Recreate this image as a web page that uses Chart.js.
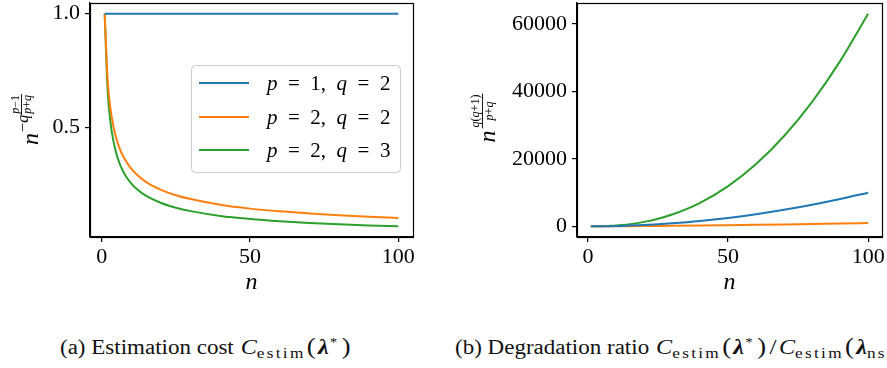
<!DOCTYPE html>
<html>
<head>
<meta charset="utf-8">
<script src="https://cdn.jsdelivr.net/npm/chart.js@4.4.1/dist/chart.umd.min.js"></script>
<style>
body { margin: 0; background: #fff; width: 887px; height: 368px; overflow: hidden; position: relative; font-family: "Liberation Serif", serif; }
#costChart { position: absolute; left: 0; top: 0; }
#ratioChart { position: absolute; left: 440px; top: 0; }
.cap { position: absolute; top: 337px; font-size: 20px; line-height: 20px; white-space: nowrap; transform-origin: left top; transform: scaleX(1.15); color: #111; }
.cap .C { font-size: 21px; font-style: italic; margin-left: 1px; }
.cap sub { font-size: 15px; letter-spacing: 2px; vertical-align: -4px; line-height: 0; }
.cap .p { font-size: 23px; margin-left: 1px; margin-right: 2px; }
.cap b { font-size: 21px; font-style: italic; }
.cap sup { font-size: 13px; vertical-align: 8px; line-height: 0; margin-left: 1px; margin-right: 3px; }
.cap .s { font-size: 22px; margin: 0 1px; }
</style>
</head>
<body>
<canvas id="costChart" width="430" height="300"></canvas>
<canvas id="ratioChart" width="447" height="300"></canvas>
<div class="cap" style="left:60px">(a) Estimation cost <span class="C">C</span><sub>estim</sub><span class="p">(</span><b>λ</b><sup>*</sup><span class="p">)</span></div>
<div class="cap" style="left:455px">(b) Degradation ratio <span class="C">C</span><sub>estim</sub><span class="p">(</span><b>λ</b><sup>*</sup><span class="p">)</span><span class="s">/</span><span class="C">C</span><sub>estim</sub><span class="p">(</span><b>λ</b><sub>ns</sub><span class="p">)</span></div>
<script>
const nValues = [1, 2, 3, 4, 5, 6, 7, 8, 10, 12, 15, 20, 25, 30, 40, 50, 60, 70, 80, 90, 100];

// left panel: estimation cost
const costP1Q2 = [1, 1, 1, 1, 1, 1, 1, 1, 1, 1, 1, 1, 1, 1, 1, 1, 1, 1, 1, 1, 1];
const costP2Q2 = [1, 0.707, 0.577, 0.5, 0.447, 0.408, 0.378, 0.354, 0.316, 0.289, 0.258, 0.224, 0.2, 0.183, 0.158, 0.141, 0.129, 0.12, 0.112, 0.105, 0.1];
const costP2Q3 = [1, 0.66, 0.517, 0.435, 0.381, 0.341, 0.311, 0.287, 0.251, 0.225, 0.197, 0.166, 0.145, 0.13, 0.109, 0.0956, 0.0857, 0.0782, 0.0721, 0.0672, 0.0631];

// right panel: degradation ratio
const ratioP1Q2 = [1, 4, 9, 16, 25, 36, 49, 64, 100, 144, 225, 400, 625, 900, 1600, 2500, 3600, 4900, 6400, 8100, 10000];
const ratioP2Q2 = [1, 2.83, 5.2, 8, 11.2, 14.7, 18.5, 22.6, 31.6, 41.6, 58.1, 89.4, 125, 164, 253, 354, 465, 586, 716, 854, 1000];
const ratioP2Q3 = [1, 5.28, 14, 27.9, 47.6, 73.7, 107, 147, 251, 389, 664, 1327, 2264, 3505, 6998, 11956, 18515, 26797, 36940, 49004, 63096];

const seriesLabels = [['1', '2'], ['2', '2'], ['2', '3']];
const seriesColors = ['#1f77b4', '#ff7f0e', '#2ca02c'];
const xTicks = [0, 50, 100];
const costTicks = [0.5, 1.0];
const ratioTicks = [0, 20000, 40000, 60000];

const SERIF = '"Liberation Serif", serif';
const tickFont = { family: SERIF, size: 22 };

function toPoints(arr) {
    return nValues.map((n, i) => ({ x: n, y: arr[i] }));
}

function makeDatasets(arrays) {
    return arrays.map((arr, i) => ({
        data: toPoints(arr),
        borderColor: seriesColors[i],
        borderWidth: 2,
        pointRadius: 0,
        fill: false,
        cubicInterpolationMode: 'monotone'
    }));
}

// draw a list of [text, font, dy] pieces one after another
function drawRuns(ctx, runs, x, y) {
    runs.forEach(r => {
        ctx.font = r[1];
        ctx.fillText(r[0], x, y + (r[2] || 0));
        x += ctx.measureText(r[0]).width;
    });
    return x;
}

function runsWidth(ctx, runs) {
    let w = 0;
    runs.forEach(r => { ctx.font = r[1]; w += ctx.measureText(r[0]).width; });
    return w;
}

const frame = {
    id: 'frame',
    afterDraw(chart) {
        const { ctx, chartArea: a } = chart;
        ctx.save();
        ctx.strokeStyle = '#000';
        ctx.lineWidth = 1.2;
        ctx.strokeRect(Math.round(a.left) + 0.5, Math.round(a.top) + 0.5, Math.round(a.right - a.left), Math.round(a.bottom - a.top));
        // x label
        ctx.fillStyle = '#000';
        ctx.textAlign = 'center';
        ctx.textBaseline = 'alphabetic';
        ctx.font = 'italic 24px ' + SERIF;
        ctx.fillText('n', (a.left + a.right) / 2, 289);
        ctx.restore();
    }
};

const costExtras = {
    id: 'costExtras',
    afterDraw(chart) {
        const ctx = chart.ctx;
        ctx.save();
        ctx.fillStyle = '#000';
        ctx.textAlign = 'left';
        ctx.textBaseline = 'alphabetic';
        // rotated y label n^{-q (p-1)/(p+q)}
        ctx.translate(38, 120);
        ctx.rotate(-Math.PI / 2);
        const nFont = 'italic 24px ' + SERIF;
        const supFont = 'italic 16px ' + SERIF;
        const fracFont = 'italic 12px ' + SERIF;
        const upSmall = '12px ' + SERIF;
        ctx.font = nFont;
        const wN = ctx.measureText('n').width;
        const wSup = runsWidth(ctx, [['−', '16px ' + SERIF], ['q', supFont]]);
        const num = [['p', fracFont], ['−1', upSmall]];
        const den = [['p', fracFont], ['+', upSmall], ['q', fracFont]];
        const wNum = runsWidth(ctx, num);
        const wDen = runsWidth(ctx, den);
        const wFrac = Math.max(wNum, wDen) + 2;
        let x = -(wN + wSup + wFrac) / 2;
        drawRuns(ctx, [['n', nFont]], x, 0);
        x += wN + 1;
        drawRuns(ctx, [['−', '16px ' + SERIF, -10], ['q', supFont, -10]], x, 0);
        x += wSup;
        drawRuns(ctx, num, x + (wFrac - wNum) / 2, -19);
        drawRuns(ctx, den, x + (wFrac - wDen) / 2, -7);
        ctx.fillRect(x, -17, wFrac, 0.9);
        ctx.restore();

        // legend box
        ctx.save();
        const bx = 191.5, by = 65.5, bw = 209, bh = 107, r = 4;
        ctx.beginPath();
        ctx.roundRect(bx, by, bw, bh, r);
        ctx.fillStyle = 'rgba(255,255,255,0.8)';
        ctx.fill();
        ctx.strokeStyle = '#cccccc';
        ctx.lineWidth = 1;
        ctx.stroke();
        const rowY = [83, 117, 150];
        const it = 'italic 21px ' + SERIF;
        const up = '21px ' + SERIF;
        seriesLabels.forEach((lab, i) => {
            ctx.strokeStyle = seriesColors[i];
            ctx.lineWidth = 2;
            ctx.beginPath();
            ctx.moveTo(199, rowY[i]);
            ctx.lineTo(249, rowY[i]);
            ctx.stroke();
            ctx.fillStyle = '#000';
            ctx.textBaseline = 'middle';
            drawRuns(ctx, [['p', it], ['  =  ' + lab[0] + ',  ', up], ['q', it], ['  =  ' + lab[1], up]], 267, rowY[i] + 1);
        });
        ctx.restore();
    }
};

const ratioExtras = {
    id: 'ratioExtras',
    afterDraw(chart) {
        const ctx = chart.ctx;
        ctx.save();
        ctx.fillStyle = '#000';
        ctx.textAlign = 'left';
        ctx.textBaseline = 'alphabetic';
        // rotated y label n^{q(q+1)/(p+q)}
        ctx.translate(55, 119);
        ctx.rotate(-Math.PI / 2);
        const nFont = 'italic 24px ' + SERIF;
        const fracFont = 'italic 12px ' + SERIF;
        const upSmall = '12px ' + SERIF;
        const num = [['q', fracFont], ['(', upSmall], ['q', fracFont], ['+1)', upSmall]];
        const den = [['p', fracFont], ['+', upSmall], ['q', fracFont]];
        ctx.font = nFont;
        const wN = ctx.measureText('n').width;
        const wNum = runsWidth(ctx, num);
        const wDen = runsWidth(ctx, den);
        const wFrac = Math.max(wNum, wDen) + 2;
        let x = -(wN + wFrac) / 2;
        drawRuns(ctx, [['n', nFont]], x, 0);
        x += wN + 2;
        drawRuns(ctx, num, x + (wFrac - wNum) / 2, -16);
        drawRuns(ctx, den, x + (wFrac - wDen) / 2, -2);
        ctx.fillRect(x, -13, wFrac, 0.9);
        ctx.restore();
    }
};

function xScale() {
    return {
        type: 'linear',
        min: -3.95,
        max: 104.95,
        afterBuildTicks: s => { s.ticks = xTicks.map(v => ({ value: v })); },
        afterFit: s => { s.height = 63; s.paddingLeft = 0; s.paddingRight = 0; },
        ticks: { font: tickFont, color: '#000', padding: 2, maxRotation: 0, autoSkip: false, callback: v => String(v) },
        grid: { drawOnChartArea: false, drawTicks: true, tickLength: 5, color: '#000', lineWidth: 1.2 },
        border: { display: true, color: '#000', width: 1.2 }
    };
}

function yScale(min, max, ticks, width, fmt) {
    return {
        type: 'linear',
        min: min,
        max: max,
        afterBuildTicks: s => { s.ticks = ticks.map(v => ({ value: v })); },
        afterFit: s => { s.width = width; s.paddingTop = 0; s.paddingBottom = 0; },
        ticks: { font: tickFont, color: '#000', padding: 5, autoSkip: false, callback: fmt },
        grid: { drawOnChartArea: false, drawTicks: true, tickLength: 5, color: '#000', lineWidth: 1.2 },
        border: { display: true, color: '#000', width: 1.2 }
    };
}

const baseOptions = {
    responsive: false,
    animation: false,
    plugins: { legend: { display: false }, tooltip: { enabled: false } }
};

new Chart(document.getElementById('costChart').getContext('2d'), {
    type: 'line',
    data: { datasets: makeDatasets([costP1Q2, costP2Q2, costP2Q3]) },
    options: Object.assign({}, baseOptions, {
        layout: { padding: { top: 3, right: 17, left: 0, bottom: 0 } },
        scales: {
            x: xScale(),
            y: yScale(0.016, 1.047, costTicks, 90, v => v.toFixed(1))
        }
    }),
    plugins: [frame, costExtras]
});

new Chart(document.getElementById('ratioChart').getContext('2d'), {
    type: 'line',
    data: { datasets: makeDatasets([ratioP1Q2, ratioP2Q2, ratioP2Q3]) },
    options: Object.assign({}, baseOptions, {
        layout: { padding: { top: 3, right: 5, left: 0, bottom: 0 } },
        scales: {
            x: xScale(),
            y: yScale(-3154, 66250, ratioTicks, 137, v => String(v))
        }
    }),
    plugins: [frame, ratioExtras]
});
</script>
</body>
</html>
